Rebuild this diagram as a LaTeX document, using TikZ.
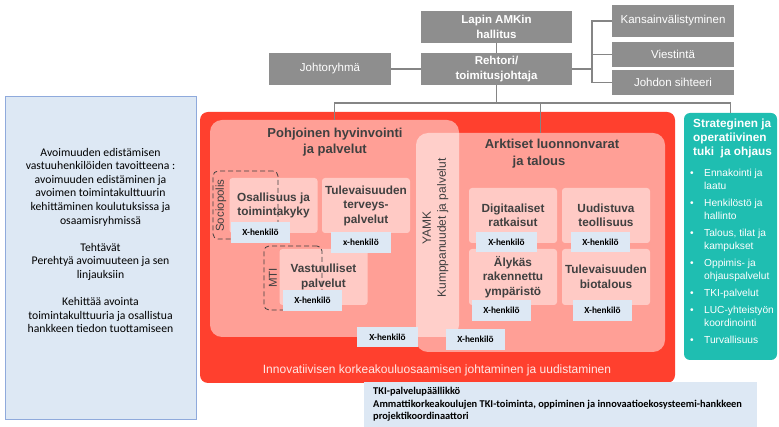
\documentclass[tikz,border=0pt]{standalone}
\usepackage{fontspec}
\setmainfont{Liberation Sans}
\newfontfamily\calibri{Carlito}
\definecolor{harmaa}{HTML}{8E8E8E}
\definecolor{viiva}{HTML}{858585}
\definecolor{punainen}{HTML}{FF402E}
\definecolor{turkoosi}{HTML}{1FBEB1}
\definecolor{vaalsin}{HTML}{DDE8F4}
\definecolor{reuna}{HTML}{8FAADC}
\definecolor{tumma}{HTML}{404040}

\begin{document}
\begin{tikzpicture}[x=1pt,y=-1pt,
  johto/.style={fill=harmaa,text=white,align=center,inner sep=0pt,outer sep=0pt,font=\fontsize{11.5}{15}\selectfont},
  alue/.style={fill=white,fill opacity=.5,rounded corners=12pt,inner sep=0pt,outer sep=0pt,minimum width=249pt},
  kortti/.style={fill=white,fill opacity=.45,text opacity=1,text=tumma,align=center,rounded corners=3pt,
    inner sep=0pt,minimum width=88pt,minimum height=55pt,font=\bfseries\fontsize{11.8}{14.5}\selectfont},
  katko/.style={draw=tumma,dash pattern=on 5pt off 3pt,rounded corners=5pt,inner sep=0pt,line width=.8pt},
  henkilo/.style={fill=vaalsin,inner sep=0pt,minimum width=59pt,minimum height=21pt,font=\calibri\bfseries\fontsize{9.3}{10}\selectfont},
  otsikko/.style={text=tumma,align=center,font=\bfseries\fontsize{13}{16.5}\selectfont},
  yhteys/.style={draw=viiva,line width=1.3pt}]
  \useasboundingbox (0,0) rectangle (779,427);
  % Leitung
  \node[johto,minimum width=151pt,minimum height=32pt,font=\bfseries\fontsize{11.5}{15}\selectfont] (hallitus) at (496.5,27) {Lapin AMKin\\hallitus};
  \node[johto,minimum width=151pt,minimum height=32pt,font=\bfseries\fontsize{11.5}{15}\selectfont] (rehtori) at (496.5,69) {Rehtori/\\toimitusjohtaja};
  \node[johto,minimum width=122pt,minimum height=32pt] (johtoryhma) at (330,69) {Johtoryhmä};
  \node[johto,minimum width=122pt,minimum height=32pt] (kv) at (673,21) {Kansainvälistyminen};
  \node[johto,minimum width=122pt,minimum height=25pt] (viestinta) at (673,54.5) {Viestintä};
  \node[johto,minimum width=122pt,minimum height=25pt] (sihteeri) at (673,82.5) {Johdon sihteeri};
  % linker Kasten
  \node[fill=vaalsin,draw=reuna,line width=.8pt,inner sep=0pt,minimum width=191pt,minimum height=323pt] (avoin) at (100.5,257.5) {};
  \node[align=center,font=\calibri\fontsize{11.7}{13.6}\selectfont] (avointeksti) at (100.5,240.5)
    {Avoimuuden edistämisen\\vastuuhenkilöiden tavoitteena :\\avoimuuden edistäminen ja\\avoimen toimintakulttuurin\\kehittäminen koulutuksissa ja\\osaamisryhmissä\\[13.6pt]
     Tehtävät\\Perehtyä avoimuuteen ja sen\\linjauksiin\\[13.6pt]Kehittää avointa\\toimintakulttuuria ja osallistua\\hankkeen tiedon tuottamiseen};
  % Bereiche
  \node[fill=punainen,rounded corners=8pt,inner sep=0pt,outer sep=0pt,minimum width=475pt,minimum height=271pt] (punainen) at (437.5,247.5) {};
  \node[alue,minimum height=217pt] (pohjoinen) at (334.5,228.5) {};
  \node[alue,minimum height=219pt] (arktiset) at (540.5,242.5) {};
  \node[otsikko] (pohjoinenotsikko) at (335,142) {Pohjoinen hyvinvointi\\ja palvelut};
  \node[otsikko] (arktisetotsikko) at (552,153.5) {Arktiset luonnonvarat\\ja talous\hspace*{26pt}};
  \node[rotate=90,align=center,text=tumma,font=\fontsize{12}{15}\selectfont] (yamk) at (435.5,228) {YAMK\\Kumppanuudet ja palvelut};
  \node[text=white!88!punainen,font=\fontsize{12}{14}\selectfont] (innovaatio) at (437,370) {Innovatiivisen korkeakouluosaamisen johtaminen ja uudistaminen};
  % Karten
  \node[kortti] (osallisuus) at (273.5,205.5) {Osallisuus ja\\toimintakyky};
  \node[kortti] (terveys) at (366,205.5) {Tulevaisuuden\\terveys-\\palvelut};
  \node[kortti,minimum height=56pt] (vastuu) at (323.5,277) {Vastuulliset\\palvelut};
  \node[kortti] (digi) at (513,215.5) {Digitaaliset\\ratkaisut};
  \node[kortti] (teollisuus) at (606,215.5) {Uudistuva\\teollisuus};
  \node[kortti,minimum height=56pt] (alykas) at (513,277) {Älykäs\\rakennettu\\ympäristö};
  \node[kortti,minimum height=56pt] (bio) at (606,277) {Tulevaisuuden\\biotalous};
  % gestrichelte Rahmen
  \node[katko,minimum width=65pt,minimum height=68pt] (sociopolis) at (245.5,205) {};
  \node[katko,minimum width=58pt,minimum height=64pt] (mti) at (293,278) {};
  \node[rotate=90,text=tumma,font=\fontsize{11.5}{12}\selectfont] (sociopolisteksti) at (221,205.5) {Sociopolis};
  \node[rotate=90,text=tumma,font=\fontsize{11.5}{12}\selectfont] (mtiteksti) at (273,278) {MTI};
  % Personen
  \node[henkilo] (h1) at (260.5,232.5) {X-henkilö};
  \node[henkilo,minimum width=60pt] (h2) at (361,242.5) {x-henkilö};
  \node[henkilo] (h3) at (312.5,300.5) {X-henkilö};
  \node[henkilo,minimum width=61pt,minimum height=20pt] (h4) at (506.5,242) {X-henkilö};
  \node[henkilo,minimum height=20pt] (h5) at (600.5,242) {X-henkilö};
  \node[henkilo] (h6) at (501.5,310.5) {X-henkilö};
  \node[henkilo] (h7) at (602.5,310.5) {X-henkilö};
  \node[henkilo,minimum width=61pt,minimum height=20pt] (h8) at (387.5,337) {X-henkilö};
  \node[henkilo] (h9) at (475.5,339.5) {X-henkilö};
  % Tuki
  \node[fill=turkoosi,rounded corners=6pt,inner sep=0pt,outer sep=0pt,minimum width=93pt,minimum height=247pt] (tuki) at (730.5,236.5) {};
  \node[anchor=north west,text=white,align=left,inner sep=0pt,font=\bfseries\fontsize{11.8}{14}\selectfont] (tukiotsikko) at (693,119)
    {Strateginen ja\\operatiivinen\\tuki\ \ ja ohjaus};
  \node[anchor=north west,text=white,align=left,inner sep=0pt,font=\fontsize{10.2}{13}\selectfont] (tukilista) at (690,168.5)
    {\makebox[14pt][l]{\textbullet}Ennakointi ja\\\hspace*{14pt}laatu\\[4pt]
     \makebox[14pt][l]{\textbullet}Henkilöstö ja\\\hspace*{14pt}hallinto\\[4pt]
     \makebox[14pt][l]{\textbullet}Talous, tilat ja\\\hspace*{14pt}kampukset\\[4pt]
     \makebox[14pt][l]{\textbullet}Oppimis- ja\\\hspace*{14pt}ohjauspalvelut\\[4pt]
     \makebox[14pt][l]{\textbullet}TKI-palvelut\\[4pt]
     \makebox[14pt][l]{\textbullet}LUC-yhteistyön\\\hspace*{14pt}koordinointi\\[4pt]
     \makebox[14pt][l]{\textbullet}Turvallisuus};
  % TKI
  \node[fill=vaalsin,inner sep=0pt,minimum width=393pt,minimum height=45pt] (tki) at (560.5,404.5) {};
  \node[anchor=west,align=left,inner sep=0pt,font=\calibri\bfseries\fontsize{10.4}{12.5}\selectfont] (tkiteksti) at (373,404.5)
    {TKI-palvelupäällikkö\\Ammattikorkeakoulujen TKI-toiminta, oppiminen ja innovaatioekosysteemi-hankkeen\\projektikoordinaattori};
  % Verbindungen
  \coordinate (haara) at (592,69);
  \coordinate (vayla) at (496.5,103);
  \draw[yhteys] (hallitus) -- (rehtori);
  \draw[yhteys] (johtoryhma) -- (rehtori);
  \draw[yhteys] (rehtori) -- (haara);
  \draw[yhteys] (haara) |- (kv);
  \draw[yhteys] (haara) |- (viestinta);
  \draw[yhteys] (haara) |- (sihteeri);
  \draw[yhteys] (rehtori) -- (vayla);
  \draw[yhteys] (vayla) -| (pohjoinen);
  \draw[yhteys] (vayla) -| (arktiset);
  \draw[yhteys] (vayla) -| (tuki);
\end{tikzpicture}
\end{document}
